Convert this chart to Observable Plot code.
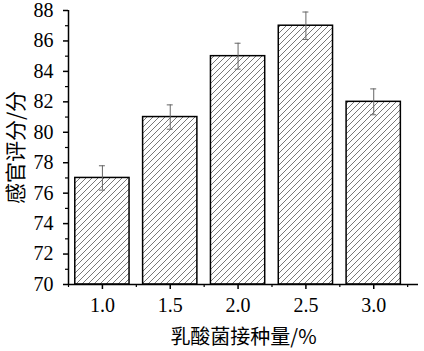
<!DOCTYPE html>
<html>
<head>
<meta charset="utf-8">
<script src="https://cdn.jsdelivr.net/npm/d3@7"></script>
<script src="https://cdn.jsdelivr.net/npm/@observablehq/plot@0.6"></script>
<style>
  body { margin: 0; background: #fff; }
</style>
</head>
<body>
<div id="chart"></div>
<script>
const doses = [1.0, 1.5, 2.0, 2.5, 3.0];
const scores = [77, 81, 85, 87, 82];
const errors = [0.8, 0.8, 0.85, 0.9, 0.85];
const yMajorTicks = [70, 72, 74, 76, 78, 80, 82, 84, 86, 88];
const yMinorTicks = [71, 73, 75, 77, 79, 81, 83, 85, 87];
const xMinorTicks = [0.75, 1.25, 1.75, 2.25, 2.75, 3.25];
const yTitle = "感官评分/分";
const xTitle = "乳酸菌接种量/%";
const yBase = 70;
const halfWidth = 0.2;
const capHalf = 0.022;

const data = doses.map((x, i) => ({x, v: scores[i], e: errors[i]}));

const serif = "'Liberation Serif', 'Times New Roman', serif";
const cjk = "'Noto Sans CJK SC', sans-serif";

const plot = Plot.plot({
  width: 424,
  height: 351,
  marginLeft: 68,
  marginRight: 6,
  marginTop: 10,
  marginBottom: 67,
  style: {fontFamily: serif, fontSize: "20px", color: "#000", background: "#fff", overflow: "visible"},
  x: {type: "linear", domain: [0.75, 3.33], axis: null},
  y: {domain: [70, 88], axis: null},
  marks: [
    Plot.rectY(data, {
      x1: d => d.x - halfWidth,
      x2: d => d.x + halfWidth,
      y1: yBase,
      y2: "v",
      fill: "url(#hatch)",
      stroke: "#000",
      strokeWidth: 1.5
    }),
    Plot.ruleX(data, {x: "x", y1: d => d.v - d.e, y2: d => d.v + d.e, stroke: "#666", strokeWidth: 1}),
    Plot.ruleY(data, {y: d => d.v + d.e, x1: d => d.x - capHalf, x2: d => d.x + capHalf, stroke: "#666", strokeWidth: 1}),
    Plot.ruleY(data, {y: d => d.v - d.e, x1: d => d.x - capHalf, x2: d => d.x + capHalf, stroke: "#666", strokeWidth: 1}),
    Plot.ruleY([yBase], {stroke: "#000", strokeWidth: 1.5}),
    Plot.ruleX([0.75], {stroke: "#000", strokeWidth: 1.5}),
    Plot.axisY(yMajorTicks, {anchor: "left", label: null, tickSize: 5, tickPadding: 10, fontSize: 20, fontFamily: serif, strokeWidth: 1.5}),
    Plot.axisY(yMinorTicks, {anchor: "left", label: null, tickSize: 3, tickFormat: () => "", strokeWidth: 1.2}),
    Plot.axisX(doses, {anchor: "bottom", label: null, tickSize: 5, tickPadding: 8, fontSize: 20, fontFamily: serif, tickFormat: d => d.toFixed(1), strokeWidth: 1.5}),
    Plot.axisX(xMinorTicks, {anchor: "bottom", label: null, tickSize: 3, tickFormat: () => "", strokeWidth: 1.2}),
    Plot.text([yTitle], {frameAnchor: "left", textAnchor: "middle", lineAnchor: "middle", rotate: -90, dx: -52, fontSize: 21, fontFamily: cjk, fill: "#000"}),
    Plot.text([xTitle], {frameAnchor: "bottom", lineAnchor: "middle", dy: 53, fontSize: 20, fontFamily: cjk, fill: "#000"})
  ]
});

const svg = d3.select(plot);
const defs = svg.insert("defs", ":first-child");
const pat = defs.append("pattern")
  .attr("id", "hatch")
  .attr("patternUnits", "userSpaceOnUse")
  .attr("width", 6)
  .attr("height", 6);
pat.append("rect").attr("width", 6).attr("height", 6).attr("fill", "#fff");
pat.append("path")
  .attr("d", "M-1,1 L1,-1 M0,6 L6,0 M5,7 L7,5")
  .attr("stroke", "#555")
  .attr("stroke-width", 0.8);

document.getElementById("chart").appendChild(plot);
</script>
</body>
</html>
